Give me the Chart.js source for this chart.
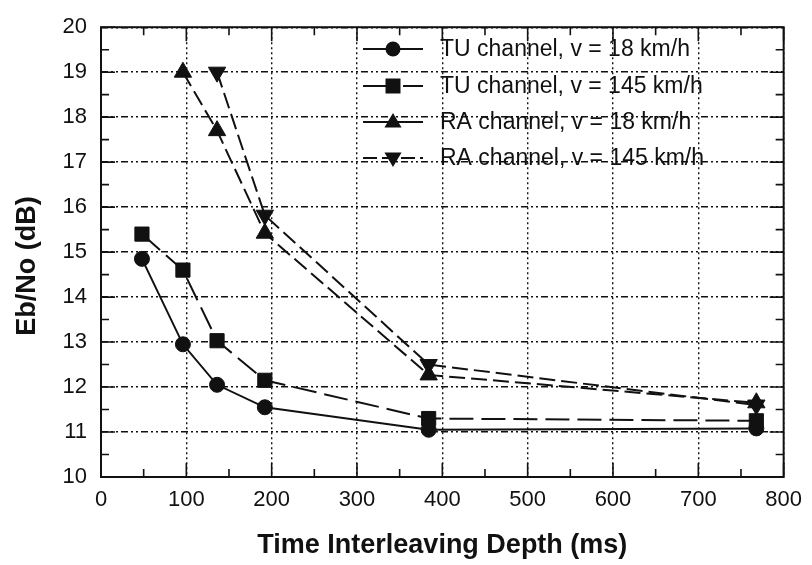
<!DOCTYPE html>
<html>
<head>
<meta charset="utf-8">
<script src="https://cdn.jsdelivr.net/npm/chart.js@4.4.1/dist/chart.umd.min.js"></script>
<style>
  html, body { margin: 0; padding: 0; background: #fff; }
  #wrap { width: 812px; height: 565px; }
</style>
</head>
<body>
<div id="wrap"><canvas id="c" width="812" height="565"></canvas></div>
<script>
// ---- data ----
const seriesLabels = ['TU channel, v = 18 km/h', 'TU channel, v = 145 km/h', 'RA channel, v = 18 km/h', 'RA channel, v = 145 km/h'];
const xTU18  = [48, 96, 136, 192, 384, 768];
const yTU18  = [14.85, 12.95, 12.05, 11.55, 11.05, 11.08];
const xTU145 = [48, 96, 136, 192, 384, 768];
const yTU145 = [15.4, 14.6, 13.03, 12.15, 11.3, 11.25];
const xRA18  = [96, 136, 192, 384, 768];
const yRA18  = [19.0, 17.7, 15.42, 12.27, 11.65];
const xRA145 = [136, 192, 384, 768];
const yRA145 = [19.0, 15.82, 12.5, 11.6];
const xTicks = [0, 100, 200, 300, 400, 500, 600, 700, 800];
const yTicks = [10, 11, 12, 13, 14, 15, 16, 17, 18, 19, 20];
const xTitle = 'Time Interleaving Depth (ms)';
const yTitle = 'Eb/No (dB)';

function pts(xs, ys) { return xs.map((x, i) => ({ x: x, y: ys[i] })); }

const INK = '#111';
const FONT = '"Liberation Sans", Arial, sans-serif';

const datasets = [
  { label: seriesLabels[0], data: pts(xTU18, yTU18), pointStyle: 'circle', pointRadius: 7.5, borderDash: [], legendDash: [] },
  { label: seriesLabels[1], data: pts(xTU145, yTU145), pointStyle: 'rect', pointRadius: 10, borderDash: [24, 8], legendDash: [32, 8] },
  { label: seriesLabels[2], data: pts(xRA18, yRA18), pointStyle: 'triangle', pointRadius: 10, borderDash: [16, 6], legendDash: [] },
  { label: seriesLabels[3], data: pts(xRA145, yRA145), pointStyle: 'triangle', pointRotation: 180, pointRadius: 10, borderDash: [16, 6], legendDash: [14, 5] }
].map(d => Object.assign({
  borderColor: INK, backgroundColor: INK, pointBackgroundColor: INK, pointBorderColor: INK,
  borderWidth: 2, pointBorderWidth: 1, tension: 0, fill: false
}, d));

function drawMarker(ctx, style, x, y, r, rot) {
  ctx.save();
  ctx.translate(x, y);
  if (rot) ctx.rotate(rot * Math.PI / 180);
  ctx.fillStyle = INK;
  ctx.beginPath();
  if (style === 'circle') {
    ctx.arc(0, 0, r, 0, Math.PI * 2);
  } else if (style === 'rect') {
    ctx.rect(-r, -r, 2 * r, 2 * r);
  } else {
    ctx.moveTo(0, -r);
    ctx.lineTo(r * 0.95, r * 0.6);
    ctx.lineTo(-r * 0.95, r * 0.6);
    ctx.closePath();
  }
  ctx.fill();
  ctx.restore();
}

const framePlugin = {
  id: 'frameTicks',
  beforeDatasetsDraw(chart) {
    const { ctx, chartArea: a, scales } = chart;
    const xs = scales.x, ys = scales.y;
    ctx.save();
    ctx.strokeStyle = INK;
    ctx.lineWidth = 1.6;
    ctx.setLineDash([]);
    ctx.beginPath();
    for (let v = 0; v <= 800; v += 50) {
      const px = xs.getPixelForValue(v);
      const len = (v % 100 === 0) ? 14 : 8;
      ctx.moveTo(px, a.bottom); ctx.lineTo(px, a.bottom - len);
      ctx.moveTo(px, a.top); ctx.lineTo(px, a.top + len);
    }
    for (let v = 10; v <= 20.001; v += 0.5) {
      const py = ys.getPixelForValue(v);
      const len = (Math.abs(v - Math.round(v)) < 0.01) ? 14 : 8;
      ctx.moveTo(a.left, py); ctx.lineTo(a.left + len, py);
      ctx.moveTo(a.right, py); ctx.lineTo(a.right - len, py);
    }
    ctx.stroke();
    ctx.lineWidth = 2;
    ctx.strokeRect(a.left, a.top, a.right - a.left, a.bottom - a.top);
    ctx.restore();
  },
  afterDraw(chart) {
    const { ctx } = chart;
    // y-axis title
    ctx.save();
    ctx.translate(28, 266);
    ctx.rotate(-Math.PI / 2);
    ctx.font = 'bold 27px ' + FONT;
    ctx.fillStyle = INK;
    ctx.textAlign = 'center';
    ctx.textBaseline = 'middle';
    ctx.fillText(yTitle, 0, 0);
    ctx.restore();
    // legend
    const x0 = 363, x1 = 423, xm = 393, tx = 440;
    const rows = [49, 86, 122, 158];
    ctx.save();
    ctx.font = '23px ' + FONT;
    ctx.fillStyle = INK;
    ctx.textBaseline = 'middle';
    chart.data.datasets.forEach((d, i) => {
      const y = rows[i];
      ctx.strokeStyle = INK;
      ctx.lineWidth = 2;
      ctx.setLineDash(d.legendDash || []);
      ctx.beginPath();
      ctx.moveTo(x0, y); ctx.lineTo(x1, y);
      ctx.stroke();
      ctx.setLineDash([]);
      drawMarker(ctx, d.pointStyle, xm, y, d.pointStyle === 'rect' ? 7.5 : (d.pointStyle === 'circle' ? 7.5 : 9), d.pointRotation || 0);
      ctx.fillText(d.label, tx, y + 1);
    });
    ctx.restore();
  }
};

new Chart(document.getElementById('c'), {
  type: 'line',
  data: { datasets: datasets },
  plugins: [framePlugin],
  options: {
    responsive: false,
    animation: false,
    devicePixelRatio: 1,
    layout: { padding: { left: 0, top: 19, right: 21, bottom: 0 } },
    plugins: { legend: { display: false }, tooltip: { enabled: false } },
    scales: {
      x: {
        type: 'linear', min: 0, max: 800,
        afterFit(s) { s.height = 88; },
        afterBuildTicks(s) { s.ticks = xTicks.map(v => ({ value: v })); },
        ticks: { color: INK, padding: 10, font: { family: FONT, size: 22 } },
        grid: { color: INK, lineWidth: 1.4, drawTicks: false },
        border: { display: false, dash: [2, 3] },
        title: { display: true, text: xTitle, color: INK,
                 font: { family: FONT, size: 27, weight: 'bold' }, padding: { top: 0, bottom: 3 } }
      },
      y: {
        type: 'linear', min: 10, max: 20,
        afterFit(s) { s.width = 101; },
        afterBuildTicks(s) { s.ticks = yTicks.map(v => ({ value: v })); },
        ticks: { color: INK, padding: 14, font: { family: FONT, size: 22 } },
        grid: { color: INK, lineWidth: 1.4, drawTicks: false },
        border: { display: false, dash: [7, 3, 2, 3, 2, 3] },
        title: { display: false }
      }
    }
  }
});
</script>
</body>
</html>
